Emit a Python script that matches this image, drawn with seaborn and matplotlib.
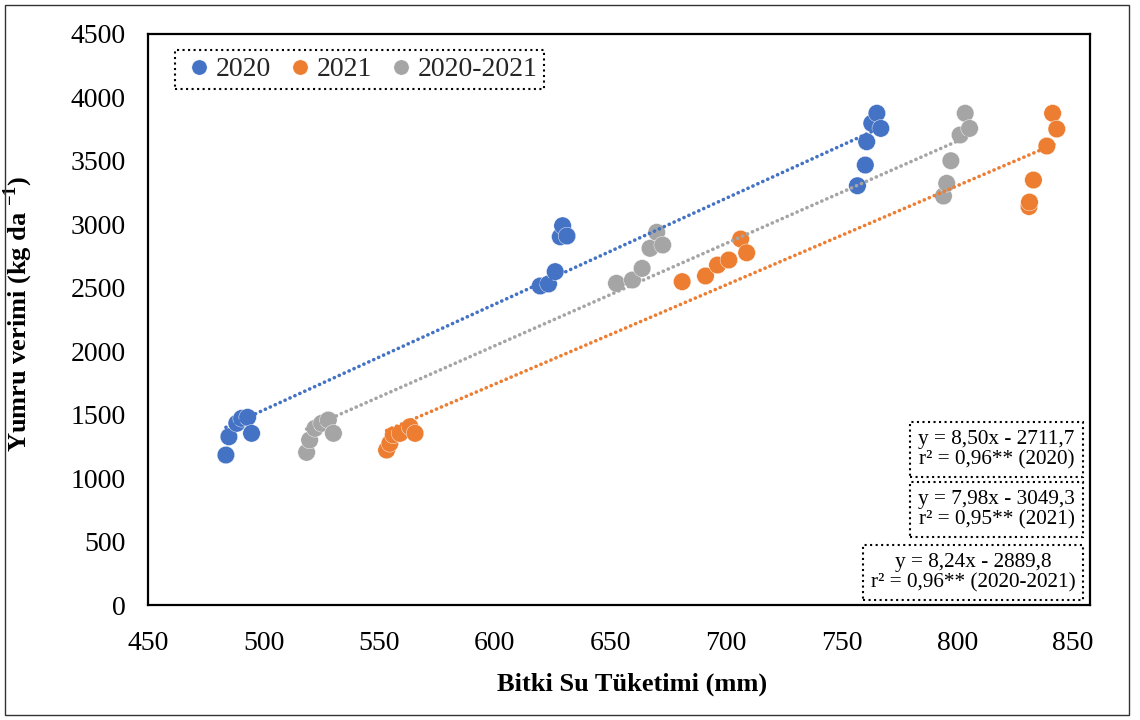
import matplotlib
matplotlib.use("Agg")
import matplotlib.pyplot as plt
import numpy as np
import pandas as pd
import seaborn as sns
from matplotlib.lines import Line2D
from matplotlib.patches import Rectangle

# values
bsu_2020 = [483.7, 485.0, 488.4, 490.5, 493.1, 494.8,
            619.6, 623.2, 626.1, 628.3, 629.3, 631.2,
            756.8, 760.2, 760.8, 763.0, 765.2, 766.9]
verim_2020 = [1182, 1326, 1432, 1471, 1479, 1353,
              2514, 2530, 2627, 2902, 2989, 2908,
              3304, 3467, 3651, 3796, 3875, 3756]

bsu_2021 = [553.2, 554.6, 556.1, 559.0, 563.3, 565.5,
            681.0, 691.1, 696.3, 701.2, 706.3, 708.9,
            831.0, 831.2, 832.9, 838.7, 841.2, 843.0]
verim_2021 = [1221, 1274, 1340, 1353, 1405, 1353,
              2548, 2593, 2679, 2719, 2884, 2776,
              3140, 3175, 3349, 3617, 3875, 3751]

bsu_ort = [518.6, 519.9, 522.2, 525.1, 528.0, 530.2,
           652.6, 659.5, 663.7, 667.1, 670.0, 672.6,
           794.0, 795.4, 797.2, 801.2, 803.4, 805.3]
verim_ort = [1203, 1300, 1392, 1432, 1458, 1353,
             2535, 2561, 2653, 2811, 2937, 2837,
             3223, 3323, 3501, 3704, 3875, 3756]

donemler = ["2020", "2021", "2020-2021"]
renkler = ["#4472C4", "#ED7D31", "#A5A5A5"]
denklemler = [
    "y = 8,50x - 2711,7\nr² = 0,96** (2020)",
    "y = 7,98x - 3049,3\nr² = 0,95** (2021)",
    "y = 8,24x - 2889,8\nr² = 0,96** (2020-2021)",
]

df = pd.concat([
    pd.DataFrame({"bsu": bsu_2020, "verim": verim_2020, "donem": "2020"}),
    pd.DataFrame({"bsu": bsu_2021, "verim": verim_2021, "donem": "2021"}),
    pd.DataFrame({"bsu": bsu_ort, "verim": verim_ort, "donem": "2020-2021"}),
])

sns.set_theme(style="white")
plt.rcParams["font.family"] = ["Liberation Serif", "DejaVu Serif"]
plt.rcParams["mathtext.fontset"] = "custom"
plt.rcParams["mathtext.rm"] = "Liberation Serif"
plt.rcParams["mathtext.bf"] = "Liberation Serif:bold"

fig = plt.figure(figsize=(11.4, 7.2), dpi=100)
ax = fig.add_axes([0.1298, 0.1597, 0.8263, 0.7931])

palette = dict(zip(donemler, renkler))
sns.scatterplot(data=df, x="bsu", y="verim", hue="donem", hue_order=donemler,
                palette=palette, s=160, edgecolor="white", linewidth=0.3,
                alpha=1, legend=False, ax=ax, zorder=3)

for donem, renk in zip(donemler, renkler):
    sub = df[df["donem"] == donem]
    sns.regplot(data=sub, x="bsu", y="verim", scatter=False, ci=None, ax=ax,
                color=renk, line_kws=dict(linestyle=(0, (0.05, 1.45)), linewidth=2.6,
                                          dash_capstyle="round", zorder=4))

ax.set_xlim(450, 857.35)
ax.set_ylim(0, 4500)
ax.set_xticks(np.arange(450, 851, 50))
ax.set_yticks(np.arange(0, 4501, 500))
ax.tick_params(axis="x", length=0, labelsize=20, pad=19, colors="black")
ax.tick_params(axis="y", length=0, labelsize=20, pad=16, colors="black")
for sp in ax.spines.values():
    sp.set_color("black")
    sp.set_linewidth(1.6)

ax.set_xlabel("Bitki Su Tüketimi (mm)", fontsize=19, fontweight="bold", color="black")
ax.set_ylabel("Yumru verimi (kg da $^{\\mathbf{-1}}$)", fontsize=19,
              fontweight="bold", color="black")
ax.xaxis.set_label_coords(0.514, -0.118)
ax.yaxis.set_label_coords(-0.12, 0.51)

handles = [Line2D([], [], marker="o", linestyle="", markersize=11,
                  markerfacecolor=r, markeredgecolor="white", markeredgewidth=0.3)
           for r in renkler]
leg = ax.legend(handles, donemler, loc="upper left", bbox_to_anchor=(0.0287, 0.972),
                ncol=3, fontsize=20, frameon=True, fancybox=False, borderaxespad=0,
                handletextpad=0.0, columnspacing=0.45, borderpad=0.25,
                handlelength=1.2)
frame = leg.get_frame()
frame.set_edgecolor("black")
frame.set_linestyle(":")
frame.set_linewidth(1.5)
frame.set_alpha(1)

kutular = [(0.9008, 0.2723), (0.9008, 0.1672), (0.8758, 0.0569)]
for metin, (x, y) in zip(denklemler, kutular):
    ax.text(x, y, metin, transform=ax.transAxes, ha="center", va="center",
            multialignment="center", fontsize=15.3, linespacing=1.1, color="black",
            bbox=dict(boxstyle="square,pad=0.38", facecolor="white",
                      edgecolor="black", linestyle=":", linewidth=1.5), zorder=6)

fig.patches.append(Rectangle((5 / 1140, 5 / 720), 1124 / 1140, 710 / 720,
                             transform=fig.transFigure, fill=False,
                             edgecolor="#333333", linewidth=1.0))

fig.savefig("out.png", dpi=100)
